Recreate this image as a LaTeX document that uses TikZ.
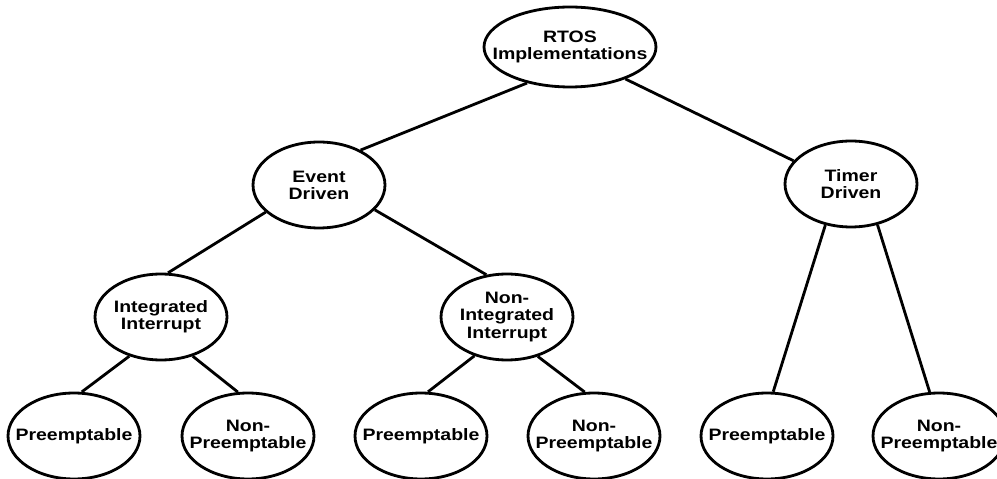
\documentclass[tikz,border=0pt]{standalone}
\usepackage{fontspec}
\setmainfont[FakeStretch=1.18]{Liberation Sans}
\usetikzlibrary{shapes,positioning}

\begin{document}
\begin{tikzpicture}[
    x=0.02cm, y=-0.02cm,
    bubble/.style={ellipse, draw=black, line width=1.6pt, minimum width=2.64cm, minimum height=1.72cm, inner xsep=-10pt, inner ysep=0pt, align=center, font=\bfseries\fontsize{9.4}{9.7}\selectfont},
    top_bubble/.style={bubble, minimum width=3.44cm, minimum height=1.6cm},
    link/.style={draw, line width=1.6pt}
]
\useasboundingbox (0,0) rectangle (997,479);

% Nodes
\node[top_bubble] (rtos) at (570,47) {RTOS\\Implementations};

\node[bubble] (event) at (319,185) {Event\\Driven};
\node[bubble] (timer) at (851,184) {Timer\\Driven};

\node[bubble] (integ) at (161,317) {Integrated\\Interrupt};
\node[bubble] (noninteg) at (507,317) {Non-\\Integrated\\Interrupt};

\node[bubble] (pre1) at (74,436) {Preemptable};
\node[bubble] (nonpre1) at (248,436) {Non-\\Preemptable};
\node[bubble] (pre2) at (421,436) {Preemptable};
\node[bubble] (nonpre2) at (594,436) {Non-\\Preemptable};
\node[bubble] (pre3) at (767,436) {Preemptable};
\node[bubble] (nonpre3) at (939,436) {Non-\\Preemptable};

% Connections
\path[link] (rtos.220) -- (event.40);
\path[link] (rtos.330) -- (timer.158);
\path[link] (event.207) -- (integ.81);
\path[link] (event.336) -- (noninteg.116);
\path[link] (integ.231) -- (pre1.80);
\path[link] (integ.309) -- (nonpre1.103);
\path[link] (noninteg.230) -- (pre2.81);
\path[link] (noninteg.308) -- (nonpre2.102);
\path[link] (timer.238) -- (pre3.82);
\path[link] (timer.303) -- (nonpre3.102);

\end{tikzpicture}
\end{document}
